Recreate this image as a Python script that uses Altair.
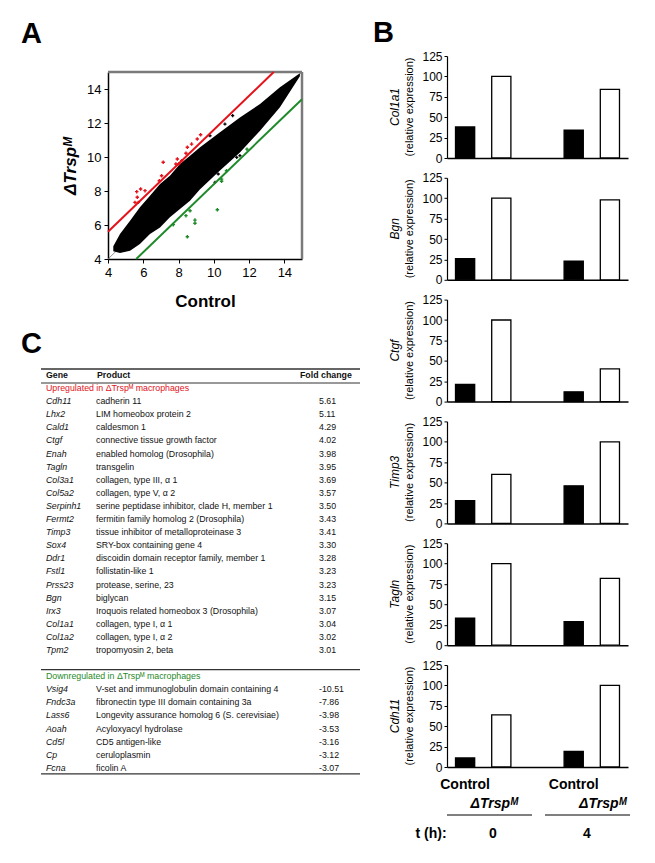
import altair as alt
import pandas as pd

FONT = "Liberation Sans"
RED = "#e3121b"
GREEN = "#1f8a2a"

# ---------------- Panel A: scatter ----------------
cloud_x = [4.3, 4.68, 5.25, 5.81, 6.38, 6.95, 7.51, 8.08, 8.65, 9.22, 10.35, 11.48, 12.62, 13.75, 14.88]
cloud_lo = [4.45, 4.35, 4.49, 4.88, 5.47, 5.86, 6.45, 6.94, 7.43, 8.1, 9.2, 10.27, 11.55, 12.92, 14.75]
cloud_hi = [4.75, 5.47, 6.25, 7.04, 7.72, 8.41, 8.9, 9.59, 10.08, 10.57, 11.45, 12.33, 13.12, 14.1, 14.92]

stray_x = [11.07, 10.63, 9.78, 9.88, 11.48, 11.3, 10.25, 10.07, 4.55, 4.5]
stray_y = [12.43, 11.94, 11.25, 10.76, 10.08, 9.98, 9.0, 8.51, 4.6, 4.75]

up_x = [5.63, 5.85, 6.1, 5.66, 5.53, 5.72, 6.91, 7.13, 7.85, 7.93, 8.18, 8.5, 8.74, 9.06, 9.25, 7.04, 8.02, 8.42]
up_y = [7.96, 8.12, 8.02, 7.63, 7.33, 7.33, 8.6, 9.69, 9.59, 9.88, 9.78, 10.57, 10.76, 11.06, 11.31, 8.9, 9.6, 10.22]

down_x = [7.7, 8.42, 8.5, 8.93, 8.93, 8.65, 10.44, 10.44, 10.2, 10.72, 11.88]
down_y = [6.02, 6.55, 5.31, 6.29, 6.1, 6.84, 8.7, 8.57, 6.9, 9.19, 10.46]

ident_x = [4.0, 15.0]
ident_y = [4.0, 15.0]
red_line_x = [4.0, 13.4]
red_line_y = [5.6, 15.0]
green_line_x = [5.6, 15.0]
green_line_y = [4.0, 13.4]
a_ticks = [4, 6, 8, 10, 12, 14]
a_domain = [4, 15]

# ---------------- Panel B: bars ----------------
b_genes = ["Col1a1", "Bgn", "Ctgf", "Timp3", "Tagln", "Cdh11"]
ctrl_0h = [38, 26, 21, 28, 33, 11]
ko_0h = [100, 100, 100, 60, 100, 64]
ctrl_4h = [34, 23, 12, 46, 29, 19]
ko_4h = [84, 98, 40, 100, 82, 100]
slots = ["c0", "k0", "gap", "c4", "k4"]
groups = ["Control", "ΔTrspᴹ"]
b_ticks = [0, 25, 50, 75, 100, 125]
time_labels = ["0", "4"]

# ---------------- Panel C: table ----------------
up_genes = ["Cdh11", "Lhx2", "Cald1", "Ctgf", "Enah", "Tagln", "Col3a1", "Col5a2", "Serpinh1", "Fermt2",
            "Timp3", "Sox4", "Ddr1", "Fstl1", "Prss23", "Bgn", "Irx3", "Col1a1", "Col1a2", "Tpm2"]
up_products = ["cadherin 11", "LIM homeobox protein 2", "caldesmon 1", "connective tissue growth factor",
               "enabled homolog (Drosophila)", "transgelin", "collagen, type III, α 1", "collagen, type V, α 2",
               "serine peptidase inhibitor, clade H, member 1", "fermitin family homolog 2 (Drosophila)",
               "tissue inhibitor of metalloproteinase 3", "SRY-box containing gene 4",
               "discoidin domain receptor family, member 1", "follistatin-like 1", "protease, serine, 23",
               "biglycan", "Iroquois related homeobox 3 (Drosophila)", "collagen, type I, α 1",
               "collagen, type I, α 2", "tropomyosin 2, beta"]
up_fc = ["5.61", "5.11", "4.29", "4.02", "3.98", "3.95", "3.69", "3.57", "3.50", "3.43",
         "3.41", "3.30", "3.28", "3.23", "3.23", "3.15", "3.07", "3.04", "3.02", "3.01"]
down_genes = ["Vsig4", "Fndc3a", "Lass6", "Aoah", "Cd5l", "Cp", "Fcna"]
down_products = ["V-set and immunoglobulin domain containing 4", "fibronectin type III domain containing 3a",
                 "Longevity assurance homolog 6 (S. cerevisiae)", "Acyloxyacyl hydrolase", "CD5 antigen-like",
                 "ceruloplasmin", "ficolin A"]
down_fc = ["-10.51", "-7.86", "-3.98", "-3.53", "-3.16", "-3.12", "-3.07"]
headers = ["Gene", "Product", "Fold change"]
up_title = "Upregulated in ΔTrspᴹ macrophages"
down_title = "Downregulated in ΔTrspᴹ macrophages"
table_rule_rows = [-0.46, 0.61, 22.5, 30.46]

# =============== build Panel A ===============
xs = alt.Scale(domain=a_domain, nice=False, zero=False)
ys = alt.Scale(domain=a_domain, nice=False, zero=False)
ax_x = alt.Axis(values=a_ticks, title="Control", labelFontSize=13, titleFontSize=17,
                titleFontWeight="bold", tickSize=4, domainWidth=1.5, titlePadding=14,
                labelPadding=3, labelOverlap=False, labelFlush=False)
ax_y = alt.Axis(values=a_ticks, title="ΔTrspᴹ", labelFontSize=13, titleFontSize=17,
                titleFontWeight="bold", titleFontStyle="italic", tickSize=4, domainWidth=1.5,
                titlePadding=7, labelPadding=3, labelOverlap=False, labelFlush=False)


def xy(xf, yf):
    return dict(x=alt.X(xf, scale=xs, axis=ax_x), y=alt.Y(yf, scale=ys, axis=ax_y))


ident = alt.Chart(pd.DataFrame({"x": ident_x, "y": ident_y})).mark_line(
    color="#777777", strokeWidth=0.8).encode(**xy("x:Q", "y:Q"))

cloud_df = pd.DataFrame({"x": cloud_x, "lo": cloud_lo, "hi": cloud_hi})
cloud = alt.Chart(cloud_df).mark_area(color="black", orient="vertical").encode(
    **xy("x:Q", "lo:Q"), y2="hi:Q")

border_df = pd.DataFrame({"x": [a_domain[0], a_domain[1]], "x2": [a_domain[1], a_domain[1]],
                          "y": [a_domain[1], a_domain[0]], "y2": [a_domain[1], a_domain[1]]})
border = alt.Chart(border_df).mark_rule(color="#7a7a7a", strokeWidth=2.5).encode(
    **xy("x:Q", "y:Q"), x2="x2:Q", y2="y2:Q")

stray = alt.Chart(pd.DataFrame({"x": stray_x, "y": stray_y})).mark_point(
    shape="cross", filled=True, size=10, color="black", opacity=1).encode(**xy("x:Q", "y:Q"))
red_line = alt.Chart(pd.DataFrame({"x": red_line_x, "y": red_line_y})).mark_line(
    color=RED, strokeWidth=2).encode(**xy("x:Q", "y:Q"))
green_line = alt.Chart(pd.DataFrame({"x": green_line_x, "y": green_line_y})).mark_line(
    color=GREEN, strokeWidth=2).encode(**xy("x:Q", "y:Q"))
up_pts = alt.Chart(pd.DataFrame({"x": up_x, "y": up_y})).mark_point(
    shape="cross", filled=True, size=12, color=RED, opacity=1).encode(**xy("x:Q", "y:Q"))
down_pts = alt.Chart(pd.DataFrame({"x": down_x, "y": down_y})).mark_point(
    shape="cross", filled=True, size=12, color=GREEN, opacity=1).encode(**xy("x:Q", "y:Q"))
label_a = alt.Chart(pd.DataFrame({"t": ["A"]})).mark_text(
    align="left", baseline="alphabetic", fontSize=29, fontWeight="bold", color="black").encode(
    text="t:N", x=alt.value(-87), y=alt.value(-29))

panel_a = alt.layer(ident, cloud, border, stray, red_line, green_line, up_pts, down_pts, label_a).properties(
    width=194, height=187)

# =============== build Panel B ===============
b_charts = []
for i, g in enumerate(b_genes):
    df = pd.DataFrame({
        "slot": ["c0", "k0", "c4", "k4"],
        "val": [ctrl_0h[i], ko_0h[i], ctrl_4h[i], ko_4h[i]],
        "grp": [groups[0], groups[1], groups[0], groups[1]],
    })
    xsb = alt.Scale(domain=slots, paddingInner=0.47, paddingOuter=0.235)
    bars = alt.Chart(df).mark_bar(stroke="black", strokeWidth=1.3).encode(
        x=alt.X("slot:N", scale=xsb, axis=alt.Axis(labels=False, ticks=False, title=None,
                                                  domainWidth=1.5)),
        y=alt.Y("val:Q", scale=alt.Scale(domain=[0, 125], nice=False),
                axis=alt.Axis(values=b_ticks, title=None, labelFontSize=12, tickSize=3,
                              domainWidth=1.2, labelPadding=2, labelOverlap=False)),
        fill=alt.Fill("grp:N", scale=alt.Scale(domain=groups, range=["black", "white"]), legend=None),
    )
    gene_lbl = alt.Chart(pd.DataFrame({"t": [g]})).mark_text(
        angle=270, fontSize=12, fontStyle="italic", baseline="middle", align="center", color="black").encode(
        text="t:N", x=alt.value(-52), y=alt.value(51))
    rel_lbl = alt.Chart(pd.DataFrame({"t": ["(relative expression)"]})).mark_text(
        angle=270, fontSize=11, baseline="middle", align="center", color="black").encode(
        text="t:N", x=alt.value(-37), y=alt.value(51))
    layers = [bars, gene_lbl, rel_lbl]
    if i == 0:
        layers.append(alt.Chart(pd.DataFrame({"t": ["B"]})).mark_text(
            align="left", baseline="alphabetic", fontSize=29, fontWeight="bold", color="black").encode(
            text="t:N", x=alt.value(-74), y=alt.value(-14)))
    if i == len(b_genes) - 1:
        ctrl_df = pd.DataFrame({"slot": ["c0", "c4"], "t": [groups[0], groups[0]]})
        ko_df = pd.DataFrame({"slot": ["k0", "k4"], "t": [groups[1], groups[1]]})
        layers.append(alt.Chart(ctrl_df).mark_text(fontSize=14, fontWeight="bold", baseline="middle",
                                                   color="black").encode(
            x=alt.X("slot:N", scale=xsb), text="t:N", y=alt.value(120)))
        layers.append(alt.Chart(ko_df).mark_text(fontSize=14, fontWeight="bold", fontStyle="italic",
                                                 baseline="middle", dx=-7, color="black").encode(
            x=alt.X("slot:N", scale=xsb), text="t:N", y=alt.value(139)))
        layers.append(alt.Chart(pd.DataFrame({"t": ["a"]})).mark_rule(color="black", strokeWidth=1).encode(
            x=alt.value(0), x2=alt.value(85), y=alt.value(150)))
        layers.append(alt.Chart(pd.DataFrame({"t": ["b"]})).mark_rule(color="black", strokeWidth=1).encode(
            x=alt.value(98), x2=alt.value(183), y=alt.value(150)))
        layers.append(alt.Chart(pd.DataFrame({"t": ["t (h):"]})).mark_text(
            fontSize=14, fontWeight="bold", baseline="middle", color="black").encode(
            text="t:N", x=alt.value(-16), y=alt.value(169)))
        layers.append(alt.Chart(pd.DataFrame({"t": [time_labels[0]]})).mark_text(
            fontSize=14, fontWeight="bold", baseline="middle", color="black").encode(
            text="t:N", x=alt.value(46), y=alt.value(169)))
        layers.append(alt.Chart(pd.DataFrame({"t": [time_labels[1]]})).mark_text(
            fontSize=14, fontWeight="bold", baseline="middle", color="black").encode(
            text="t:N", x=alt.value(140), y=alt.value(169)))
    b_charts.append(alt.layer(*layers).properties(width=181, height=102))

# =============== build Panel C ===============
rows = []
rows.append({"row": 0, "gene": headers[0], "prod": headers[1], "fc": headers[2], "kind": "head"})
for k in range(len(up_genes)):
    rows.append({"row": 2 + k, "gene": up_genes[k], "prod": up_products[k], "fc": up_fc[k], "kind": "body"})
for k in range(len(down_genes)):
    rows.append({"row": 24 + k, "gene": down_genes[k], "prod": down_products[k], "fc": down_fc[k], "kind": "body"})
tdf = pd.DataFrame(rows)
body = tdf[tdf.kind == "body"].reset_index(drop=True)
head = tdf[tdf.kind == "head"].reset_index(drop=True)
sec_df = pd.DataFrame({"row": [1, 23], "t": [up_title, down_title], "c": ["up", "down"]})
rule_df = pd.DataFrame({"row": table_rule_rows, "w": [1.5, 1.0, 1.2, 1.2]})

ts = alt.Scale(domain=[-8.25, 30.7], reverse=True, nice=False, zero=False)
TFS = 8.8
t_gene = alt.Chart(body).mark_text(align="left", baseline="middle", fontSize=TFS, fontStyle="italic",
                                    color="#111111").encode(
    y=alt.Y("row:Q", scale=ts, axis=None), text="gene:N", x=alt.value(-62))
t_prod = alt.Chart(body).mark_text(align="left", baseline="middle", fontSize=TFS, color="#111111").encode(
    y=alt.Y("row:Q", scale=ts, axis=None), text="prod:N", x=alt.value(-12))
t_fc = alt.Chart(body).mark_text(align="left", baseline="middle", fontSize=TFS, color="#111111").encode(
    y=alt.Y("row:Q", scale=ts, axis=None), text="fc:N", x=alt.value(211))
h_gene = alt.Chart(head).mark_text(align="left", baseline="middle", fontSize=TFS, fontWeight="bold",
                                    color="#111111").encode(
    y=alt.Y("row:Q", scale=ts, axis=None), text="gene:N", x=alt.value(-62))
h_prod = alt.Chart(head).mark_text(align="left", baseline="middle", fontSize=TFS, fontWeight="bold",
                                    color="#111111").encode(
    y=alt.Y("row:Q", scale=ts, axis=None), text="prod:N", x=alt.value(-11))
h_fc = alt.Chart(head).mark_text(align="left", baseline="middle", fontSize=TFS, fontWeight="bold",
                                  color="#111111").encode(
    y=alt.Y("row:Q", scale=ts, axis=None), text="fc:N", x=alt.value(192))
sec = alt.Chart(sec_df).mark_text(align="left", baseline="middle", fontSize=TFS).encode(
    y=alt.Y("row:Q", scale=ts, axis=None), text="t:N", x=alt.value(-62),
    color=alt.Color("c:N", scale=alt.Scale(domain=["up", "down"], range=[RED, GREEN]), legend=None))
rules = alt.Chart(rule_df).mark_rule(color="#333333").encode(
    y=alt.Y("row:Q", scale=ts, axis=None), x=alt.value(-67), x2=alt.value(252),
    strokeWidth=alt.StrokeWidth("w:Q", scale=None, legend=None))
label_c = alt.Chart(pd.DataFrame({"t": ["C"]})).mark_text(
    align="left", baseline="alphabetic", fontSize=29, fontWeight="bold", color="black").encode(
    text="t:N", x=alt.value(-87), y=alt.value(86))

panel_c = alt.layer(rules, h_gene, h_prod, h_fc, sec, t_gene, t_prod, t_fc, label_c).properties(
    width=252, height=510)

spacer = alt.Chart(pd.DataFrame({"t": [0]})).mark_point(opacity=0).encode(
    x=alt.value(0), y=alt.value(0)).properties(width=252, height=8)

left = alt.vconcat(spacer, panel_a, panel_c, spacing=8, bounds="flush")
right = alt.vconcat(*b_charts, spacing=19.8, bounds="flush")

chart = alt.hconcat(left, right, spacing=12).properties(
    padding={"left": 13, "top": 11, "right": 5, "bottom": 5}
).configure_view(stroke=None).configure_axis(
    labelFont=FONT, titleFont=FONT, labelColor="black", titleColor="black",
    domainColor="black", tickColor="black", grid=False, labelOverlap=False
).configure_text(font=FONT)

chart.save("out.html", embed_options={"renderer": "svg", "actions": False})
